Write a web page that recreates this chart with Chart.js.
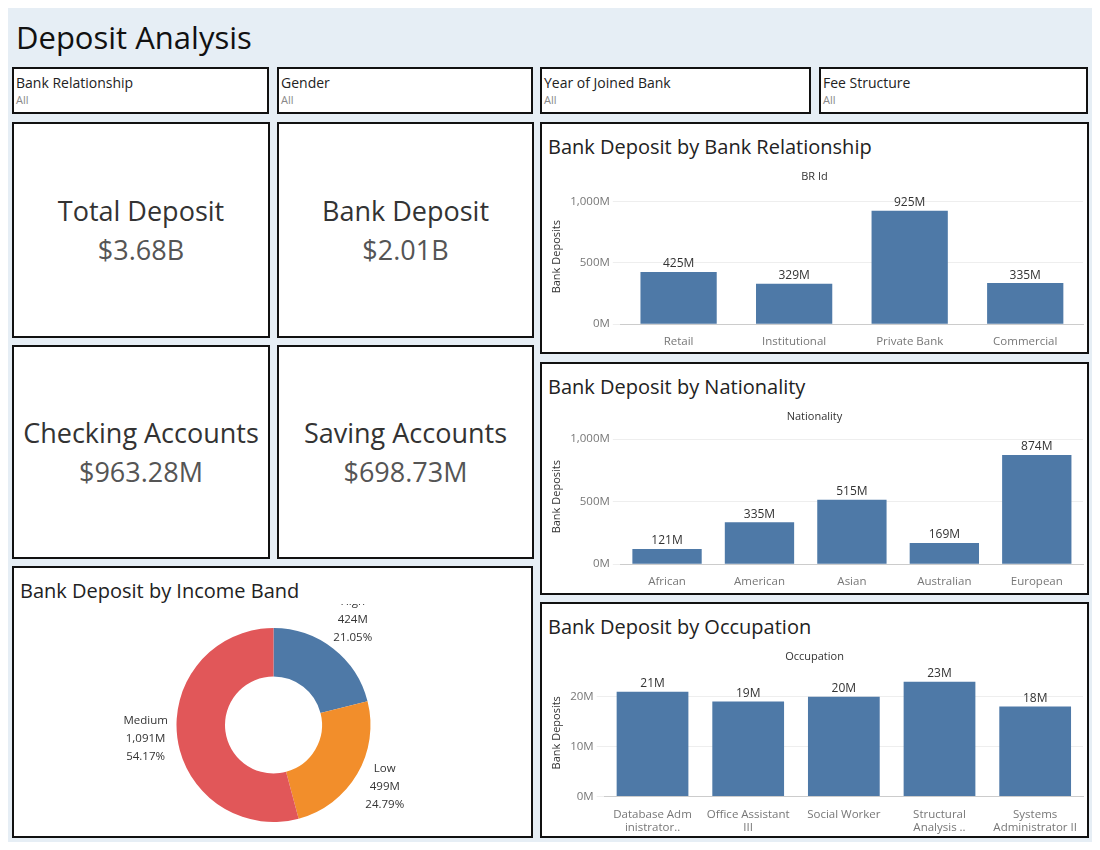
<!DOCTYPE html>
<html><head><meta charset="utf-8">
<script src="https://cdn.jsdelivr.net/npm/chart.js@4"></script>
<style>
body{margin:0;background:#fff;font-family:"Open Sans",Lato,sans-serif;color:#333}
.box{position:absolute;border:2px solid #111;box-sizing:border-box;background:#fff}
#head{position:absolute;left:8px;top:8px;width:1084px;height:834px;background:#e6eef5}
h1{position:absolute;left:16px;top:16px;margin:0;font-weight:400;font-size:31px;color:#111}
.flt{font-size:14px;padding:4px 2px;color:#222}
.flt small{display:block;font-size:11px;color:#888}
.kpi{display:flex;flex-direction:column;justify-content:center;align-items:center;font-size:27px;color:#333}
.kpi span{font-size:27px;color:#555;margin-top:2px}
.ct{position:absolute;left:6px;top:9px;font-size:20px;color:#222}
.cv{position:absolute}
</style></head><body>
<div id="head"></div>
<h1>Deposit Analysis</h1>
<div class="box flt" style="left:12px;top:67px;width:257px;height:47px">Bank Relationship<small>All</small></div>
<div class="box flt" style="left:277px;top:67px;width:256px;height:47px">Gender<small>All</small></div>
<div class="box flt" style="left:540px;top:67px;width:271px;height:47px">Year of Joined Bank<small>All</small></div>
<div class="box flt" style="left:819px;top:67px;width:269px;height:47px">Fee Structure<small>All</small></div>
<div class="box kpi" style="left:12px;top:122px;width:258px;height:216px">Total Deposit<span>$3.68B</span></div>
<div class="box kpi" style="left:277px;top:122px;width:257px;height:216px">Bank Deposit<span>$2.01B</span></div>
<div class="box kpi" style="left:12px;top:345px;width:258px;height:214px">Checking Accounts<span>$963.28M</span></div>
<div class="box kpi" style="left:277px;top:345px;width:257px;height:214px">Saving Accounts<span>$698.73M</span></div>
<div class="box" style="left:12px;top:566px;width:521px;height:272px"><div class="ct">Bank Deposit by Income Band</div>
<div class="cv" style="left:2px;top:36px;width:515px;height:232px"><canvas id="c4"></canvas></div></div>
<div class="box" style="left:540px;top:122px;width:549px;height:232px"><div class="ct">Bank Deposit by Bank Relationship</div>
<div class="cv" style="left:4px;top:46px;width:541px;height:182px"><canvas id="c1"></canvas></div></div>
<div class="box" style="left:540px;top:362px;width:549px;height:233px"><div class="ct">Bank Deposit by Nationality</div>
<div class="cv" style="left:4px;top:46px;width:541px;height:182px"><canvas id="c2"></canvas></div></div>
<div class="box" style="left:540px;top:602px;width:549px;height:236px"><div class="ct">Bank Deposit by Occupation</div>
<div class="cv" style="left:4px;top:46px;width:541px;height:188px"><canvas id="c3"></canvas></div></div>
<script>
const relLabels = ["Retail", "Institutional", "Private Bank", "Commercial"];
const relValues = [425, 329, 925, 335];
const natLabels = ["African", "American", "Asian", "Australian", "European"];
const natValues = [121, 335, 515, 169, 874];
const occLabels = [["Database Adm","inistrator.."], ["Office Assistant","III"], ["Social Worker"], ["Structural","Analysis .."], ["Systems","Administrator II"]];
const occValues = [21, 19, 20, 23, 18];
const relTicks = [0, 500, 1000];
const natTicks = [0, 500, 1000];
const occTicks = [0, 10, 20];
const bandLabels = ["High", "Low", "Medium"];
const bandValues = [424, 499, 1091];
const bandPcts = ["21.05%", "24.79%", "54.17%"];
const bandColors = ["#4e79a7", "#f28e2b", "#e15759"];

Chart.defaults.font.family = '"Open Sans", Lato, sans-serif';
Chart.defaults.color = "#666";

const barLabels = {
  id: "barLabels",
  afterDatasetsDraw(chart) {
    const ctx = chart.ctx;
    const meta = chart.getDatasetMeta(0);
    ctx.save();
    ctx.font = '12px "Open Sans"';
    ctx.fillStyle = "#333";
    ctx.textAlign = "center";
    ctx.textBaseline = "bottom";
    meta.data.forEach((bar, i) => {
      ctx.fillText(chart.data.datasets[0].data[i] + "M", bar.x, bar.y - 2);
    });
    ctx.restore();
  }
};

function bar(id, labels, values, title, max, tickVals, pct) {
  new Chart(document.getElementById(id), {
    type: "bar",
    data: { labels: labels, datasets: [{ data: values, backgroundColor: "#4e79a7", barPercentage: pct, categoryPercentage: 1 }] },
    options: {
      responsive: true, maintainAspectRatio: false, animation: false,
      layout: { padding: { top: 0, right: 4 } },
      plugins: { legend: { display: false }, tooltip: { enabled: false },
        title: { display: true, text: title, color: "#333", font: { size: 11, weight: "normal" }, padding: { bottom: 6 } } },
      scales: {
        x: { grid: { display: false }, border: { color: "#ccc" }, ticks: { color: "#777", font: { size: 11.5 }, maxRotation: 0, autoSkip: false } },
        y: { min: 0, max: max, grid: { color: "#eee" }, border: { display: false },
          afterBuildTicks: s => { s.ticks = tickVals.map(v => ({ value: v })); },
          title: { display: true, text: "Bank Deposits", color: "#333", font: { size: 11 } },
          ticks: { autoSkip: false, color: "#777", font: { size: 11.5 },
            callback: v => v.toLocaleString("en-US") + "M" } }
      }
    },
    plugins: [barLabels]
  });
}
bar("c1", relLabels, relValues, "BR Id", 1100, relTicks, 0.66);
bar("c2", natLabels, natValues, "Nationality", 1080, natTicks, 0.75);
bar("c3", occLabels, occValues, "Occupation", 25.5, occTicks, 0.75);

const donutLabels = {
  id: "donutLabels",
  afterDatasetsDraw(chart) {
    const ctx = chart.ctx;
    const meta = chart.getDatasetMeta(0);
    ctx.save();
    ctx.font = '11.5px "Open Sans"';
    ctx.fillStyle = "#333";
    ctx.textAlign = "center";
    meta.data.forEach((arc, i) => {
      const a = (arc.startAngle + arc.endAngle) / 2;
      const r = arc.outerRadius + 32;
      const x = arc.x + Math.cos(a) * r, y = arc.y + Math.sin(a) * r;
      const lines = [bandLabels[i], bandValues[i].toLocaleString("en-US") + "M", bandPcts[i]];
      lines.forEach((t, k) => ctx.fillText(t, x, y + (k - 1) * 18));
    });
    ctx.restore();
  }
};
new Chart(document.getElementById("c4"), {
  type: "doughnut",
  data: { labels: bandLabels, datasets: [{ data: bandValues, backgroundColor: bandColors, borderWidth: 0 }] },
  options: {
    responsive: true, maintainAspectRatio: false, animation: false, cutout: "50%",
    layout: { padding: { top: 24, bottom: 14 } },
    plugins: { legend: { display: false }, tooltip: { enabled: false } }
  },
  plugins: [donutLabels]
});
</script>
</body></html>
